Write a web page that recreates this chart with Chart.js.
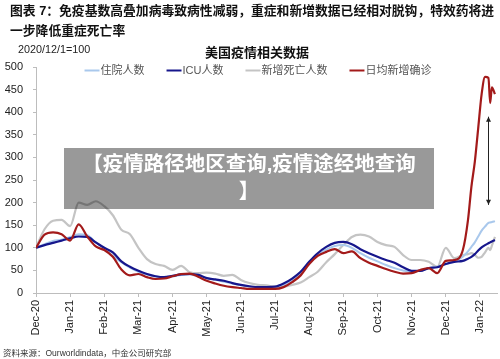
<!DOCTYPE html>
<html>
<head>
<meta charset="utf-8">
<script src="https://cdn.jsdelivr.net/npm/chart.js@4"></script>
<style>
  body { margin: 0; background: #fff; }
  #wrap { position: relative; width: 500px; height: 359px; overflow: hidden; font-family: "Liberation Sans", "Noto Sans CJK SC", sans-serif; }
  #chart { position: absolute; left: 0; top: 0; }
  .txt { position: absolute; white-space: nowrap; color: #111; }
  #head { left: 10px; top: 1px; font-size: 12.8px; font-weight: bold; line-height: 20px; }
  #base { left: 18px; top: 43px; font-size: 10.8px; color: #222; }
  #ctitle { left: 205px; top: 42px; font-size: 13px; font-weight: bold; }
  #src { left: 3px; top: 346px; font-size: 8.5px; color: #333; }
  #banner { position: absolute; left: 64px; top: 148px; width: 370px; height: 61px; background: rgba(0,0,0,0.4);
            color: #fff; font-weight: bold; font-size: 20.5px; line-height: 27px; text-align: center; padding-top: 2px; box-sizing: border-box; }
</style>
</head>
<body>
<div id="wrap">
  <canvas id="chart" width="500" height="359"></canvas>
  <div class="txt" id="head">图表 7：免疫基数高叠加病毒致病性减弱，重症和新增数据已经相对脱钩，特效药将进<br>一步降低重症死亡率</div>
  <div class="txt" id="base">2020/12/1=100</div>
  <div class="txt" id="ctitle">美国疫情相关数据</div>
  <div class="txt" id="src">资料来源：Ourworldindata，中金公司研究部</div>
  <div id="banner">【疫情路径地区查询,疫情途经地查询<br>】</div>
</div>
<script>
// x positions in months since Dec-20 (roughly weekly, denser at the Jan-22 spike)
const months = [0, 0.25, 0.5, 0.75, 1, 1.25, 1.5, 1.75, 2, 2.25, 2.5, 2.75, 3, 3.25, 3.5, 3.75, 4,
  4.25, 4.5, 4.75, 5, 5.25, 5.5, 5.75, 6, 6.25, 6.5, 6.75, 7, 7.25, 7.5, 7.75, 8, 8.25, 8.5, 8.75, 9,
  9.25, 9.5, 9.75, 10, 10.25, 10.5, 10.75, 11, 11.25, 11.5, 11.75, 12, 12.25, 12.5,
  12.65, 12.75, 12.85, 12.95, 13.05, 13.15, 13.25, 13.3, 13.35, 13.44];

const monthLabels = ['Dec-20', 'Jan-21', 'Feb-21', 'Mar-21', 'Apr-21', 'May-21', 'Jun-21',
  'Jul-21', 'Aug-21', 'Sep-21', 'Oct-21', 'Nov-21', 'Dec-21', 'Jan-22'];

const yTicks = [0, 50, 100, 150, 200, 250, 300, 350, 400, 450, 500];

const hospital = [100, 108, 115, 118, 124, 130, 128, 112, 98, 82, 68, 56, 47, 41, 37, 35, 37,
  40, 41, 37, 33, 29, 25, 21, 17, 14, 12, 11, 12, 18, 29, 44, 66, 84, 96, 104, 106,
  100, 88, 78, 70, 62, 55, 50, 47, 49, 55, 58, 64, 70, 80,
  92, 102, 112, 125, 138, 147, 155, 156, 157, 159];

const icu = [100, 106, 111, 116, 121, 125, 124, 112, 100, 90, 70, 58, 49, 42, 37, 35, 38,
  41, 42, 40, 33, 30, 27, 22, 18, 15, 13, 13, 14, 21, 32, 47, 69, 88, 102, 111, 113,
  108, 97, 88, 80, 73, 67, 57, 49, 49, 55, 57, 64, 69, 71,
  76, 80, 86, 94, 101, 106, 110, 112, 114, 117];

const deaths = [100, 141, 160, 162, 148, 200, 195, 203, 192, 172, 140, 130, 100, 75, 64, 60, 51,
  60, 46, 44, 45, 43, 38, 40, 29, 22, 18, 17, 14, 14, 18, 23, 35, 47, 68, 86, 106,
  124, 129, 125, 113, 106, 102, 84, 73, 73, 69, 58, 100, 77, 84,
  86, 88, 84, 78, 80, 90, 100, 95, 105, 124];

const cases = [100, 129, 134, 130, 116, 152, 125, 103, 95, 80, 52, 39, 42, 35, 31, 32, 37,
  42, 43, 36, 27, 21, 16, 13, 11, 9, 9, 9, 9, 13, 24, 39, 64, 82, 91, 97, 88,
  92, 77, 67, 60, 53, 47, 43, 44, 51, 55, 44, 71, 73, 95,
  161, 235, 290, 365, 440, 478, 476, 420, 455, 440];

// double arrow marking the gap between cases and hospitalisations
const arrowMonth = 13.23;
const arrowRange = [195, 390];

const FONT = '"Liberation Sans", "Noto Sans CJK SC", sans-serif';

function pts(vals) {
  return vals.map((v, i) => ({ x: months[i], y: v }));
}

const legendPlugin = {
  id: 'inlineLegend',
  afterDraw(chart) {
    const ctx = chart.ctx;
    const sets = chart.data.datasets;
    ctx.save();
    ctx.font = '11px ' + FONT;
    const lineW = 15, gap = 1, space = 22;
    let total = 0;
    sets.forEach((d, i) => {
      total += lineW + gap + ctx.measureText(d.label).width + (i < sets.length - 1 ? space : 0);
    });
    let x = 258 - total / 2;
    const y = 70.5;
    sets.forEach(d => {
      ctx.strokeStyle = d.borderColor;
      ctx.lineWidth = 2;
      ctx.beginPath();
      ctx.moveTo(x, y);
      ctx.lineTo(x + lineW, y);
      ctx.stroke();
      x += lineW + gap;
      ctx.fillStyle = '#555';
      ctx.textBaseline = 'middle';
      ctx.fillText(d.label, x, y);
      x += ctx.measureText(d.label).width + space;
    });
    ctx.restore();
  }
};

const arrowPlugin = {
  id: 'gapArrow',
  afterDatasetsDraw(chart) {
    const { ctx, scales } = chart;
    const x = Math.round(scales.x.getPixelForValue(arrowMonth)) + 0.5;
    const y1 = scales.y.getPixelForValue(arrowRange[0]);
    const y2 = scales.y.getPixelForValue(arrowRange[1]);
    ctx.save();
    ctx.strokeStyle = '#222';
    ctx.fillStyle = '#222';
    ctx.lineWidth = 1;
    ctx.beginPath();
    ctx.moveTo(x, y1);
    ctx.lineTo(x, y2);
    ctx.stroke();
    [[y1, -1], [y2, 1]].forEach(([y, dir]) => {
      ctx.beginPath();
      ctx.moveTo(x, y);
      ctx.lineTo(x - 2.5, y + dir * 5);
      ctx.lineTo(x + 2.5, y + dir * 5);
      ctx.closePath();
      ctx.fill();
    });
    ctx.restore();
  }
};

new Chart(document.getElementById('chart'), {
  type: 'line',
  data: {
    datasets: [
      { label: '住院人数', data: pts(hospital), borderColor: '#a9c8ec', borderWidth: 2, order: 3 },
      { label: 'ICU人数', data: pts(icu), borderColor: '#16168c', borderWidth: 2.2, order: 2 },
      { label: '新增死亡人数', data: pts(deaths), borderColor: '#c4c4c4', borderWidth: 2.2, order: 4 },
      { label: '日均新增确诊', data: pts(cases), borderColor: '#a31a1a', borderWidth: 2.2, order: 1 }
    ]
  },
  options: {
    responsive: false,
    animation: false,
    devicePixelRatio: 1,
    layout: { padding: { left: 5, top: 67, right: 3, bottom: 0 } },
    elements: { point: { radius: 0 }, line: { cubicInterpolationMode: 'monotone' } },
    plugins: { legend: { display: false }, tooltip: { enabled: false } },
    scales: {
      x: {
        type: 'linear',
        min: 0,
        max: 13.5,
        afterFit: s => { s.height = 66; },
        border: { color: '#bdbdbd' },
        grid: { drawOnChartArea: false, tickLength: 4, color: '#bdbdbd' },
        ticks: {
          stepSize: 1,
          includeBounds: false,
          minRotation: 90,
          maxRotation: 90,
          padding: 3,
          color: '#222',
          font: { family: FONT, size: 11 },
          callback: v => monthLabels[v] || ''
        }
      },
      y: {
        min: 0,
        max: 500,
        afterFit: s => { s.width = 31; },
        afterBuildTicks: s => { s.ticks = yTicks.map(v => ({ value: v })); },
        border: { color: '#bdbdbd' },
        grid: { drawOnChartArea: false, tickLength: 3, color: '#bdbdbd' },
        ticks: { padding: 10, color: '#222', font: { family: FONT, size: 11 } }
      }
    }
  },
  plugins: [legendPlugin, arrowPlugin]
});
</script>
</body>
</html>
